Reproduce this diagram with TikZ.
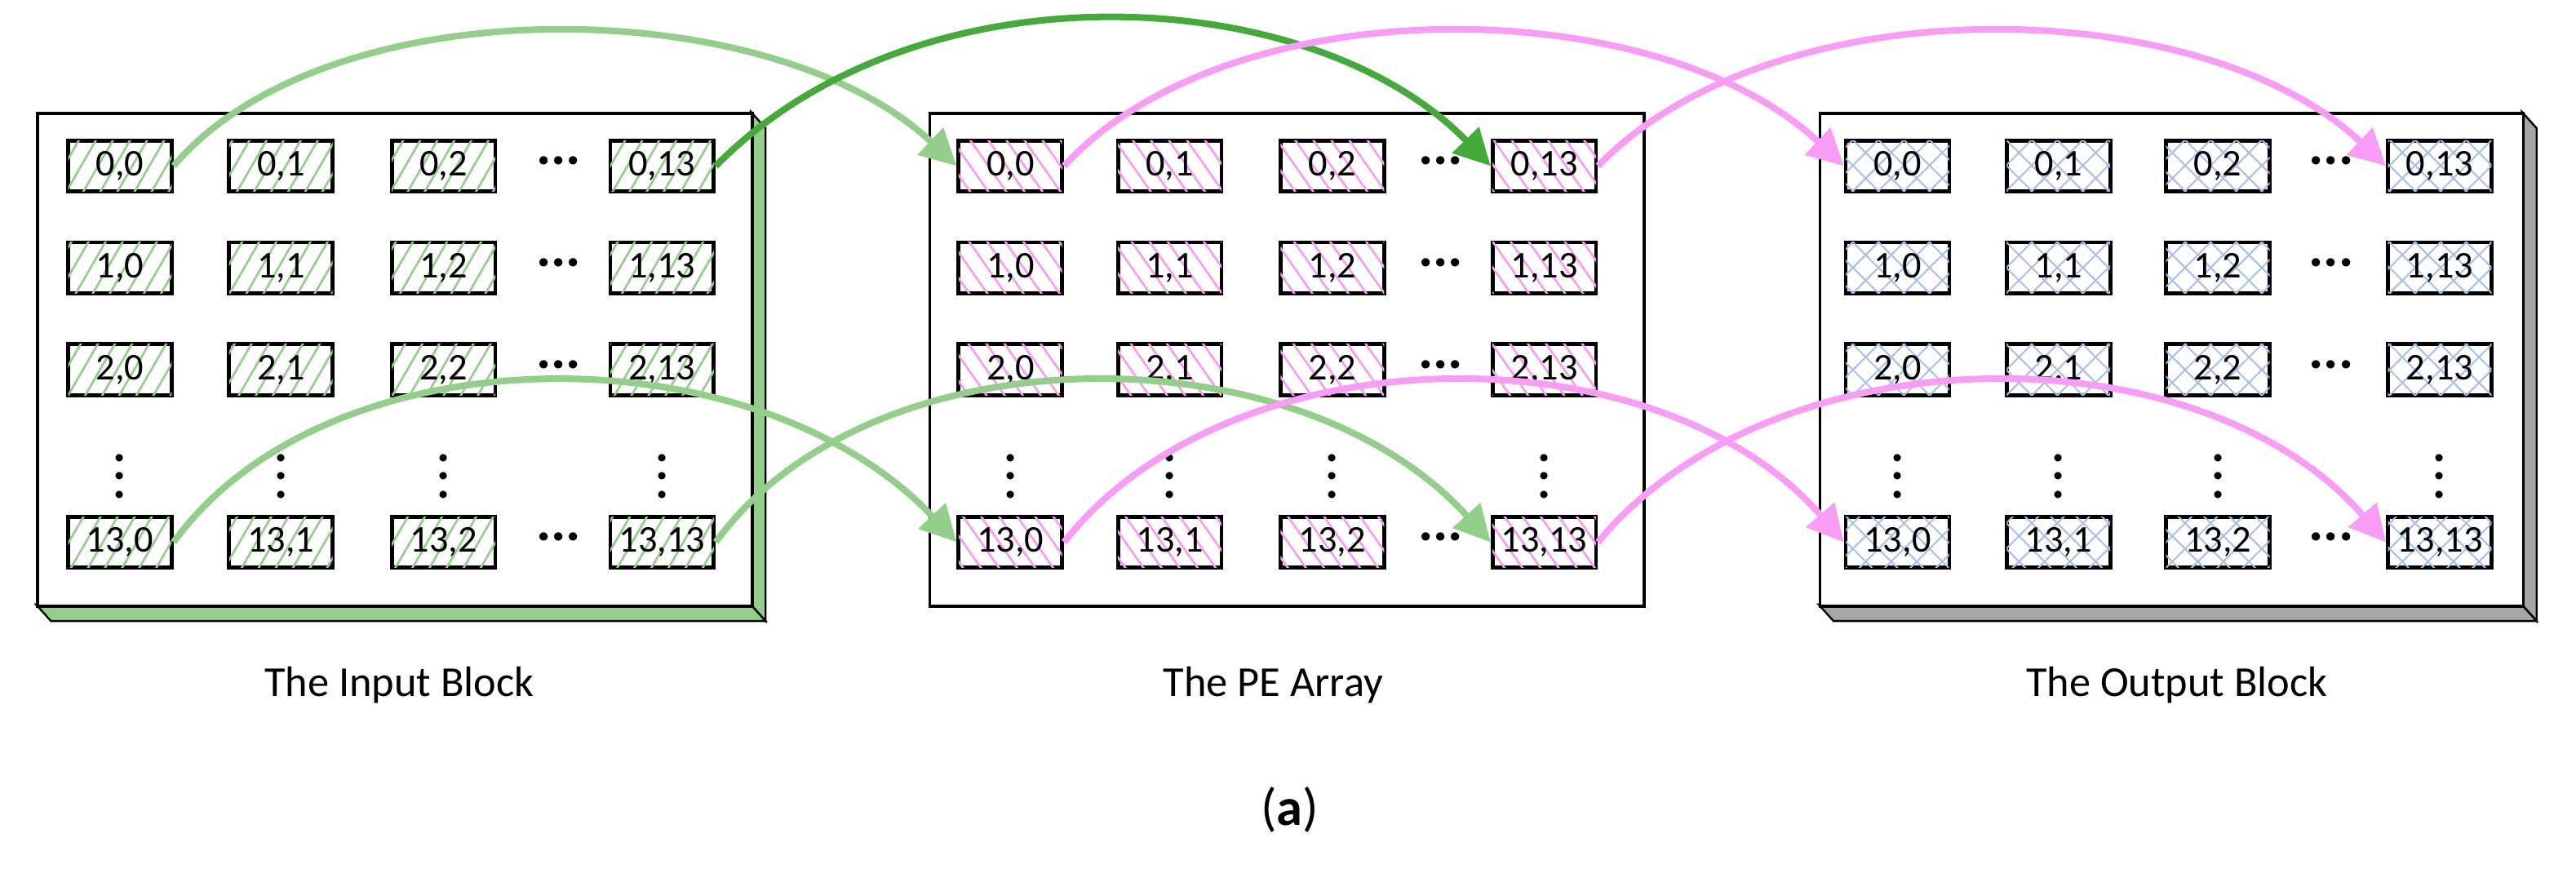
\documentclass[tikz,border=0pt]{standalone}
\usepackage{fontspec}
\setmainfont{Carlito}
\usetikzlibrary{patterns.meta,arrows.meta}
\definecolor{lg}{HTML}{93CF8A}
\definecolor{dg}{HTML}{44AA3A}
\definecolor{pk}{HTML}{F99CF5}
\definecolor{lb}{HTML}{A8C0E8}
\definecolor{gs}{HTML}{A6A6A6}
\begin{document}
\begin{tikzpicture}[x=1pt,y=-1pt,
  cell/.style={draw=black,line width=2.4pt,minimum width=63pt,minimum height=31pt,inner sep=0pt,font=\fontsize{23}{24}\selectfont},
  gcell/.style={cell,postaction={pattern={Lines[angle=60,distance=9pt,line width=1.3pt]},pattern color=lg}},
  pcell/.style={cell,postaction={pattern={Lines[angle=-55,distance=9pt,line width=1.3pt]},pattern color=pk}},
  bcell/.style={cell,postaction={pattern={Lines[angle=45,distance=11pt,line width=1pt]},pattern color=lb},postaction={pattern={Lines[angle=-45,distance=11pt,line width=1pt]},pattern color=lb}},
  blk/.style={draw=black,line width=1.8pt,fill=white},
  lbl/.style={font=\fontsize{26}{28}\selectfont},
  arr/.style={line width=4pt,-{Triangle[length=22pt,width=22pt]}},
  hd/.style={inner sep=0pt,font=\fontsize{34}{34}\bfseries\selectfont},
  vd/.style={inner sep=0pt,align=center,font=\fontsize{30}{11}\bfseries\selectfont}]
\useasboundingbox (0,0) rectangle (1568,528.5);
% blocks
\fill[lg,draw=black,line width=1.2pt] (457,68) -- (466,78) -- (466,378) -- (457,368) -- cycle;
\fill[lg,draw=black,line width=1.2pt] (22,368) -- (31,378) -- (466,378) -- (457,368) -- cycle;
\node[blk,minimum width=435pt,minimum height=300pt,inner sep=0pt,anchor=north west] (inb) at (22,68) {};
\node[blk,minimum width=435pt,minimum height=300pt,inner sep=0pt,anchor=north west] (peb) at (565,68) {};
\fill[gs,draw=black,line width=1.2pt] (1535,68) -- (1544,78) -- (1544,378) -- (1535,368) -- cycle;
\fill[gs,draw=black,line width=1.2pt] (1107,368) -- (1116,378) -- (1544,378) -- (1535,368) -- cycle;
\node[blk,minimum width=428pt,minimum height=300pt,inner sep=0pt,anchor=north west] (outb) at (1107,68) {};
% cells
\foreach \r/\y in {0/101,1/163,2/225,13/330}{
  \foreach \c/\xa/\xb/\xc in {0/73/615/1155,1/171/712/1253,2/270/811/1350,13/403/940/1485}{
    \node[gcell] (i\r-\c) at (\xa,\y) {\r,\c};
    \node[pcell] (p\r-\c) at (\xb,\y) {\r,\c};
    \node[bcell] (o\r-\c) at (\xc,\y) {\r,\c};
  }
  \node[hd] (di\r) at (340,\y-3) {...};
  \node[hd] (dp\r) at (877,\y-3) {...};
  \node[hd] (do\r) at (1419,\y-3) {...};
}
\foreach \x/\n in {73/a,171/b,270/c,403/d,615/e,712/f,811/g,940/h,1155/i,1253/j,1350/k,1485/l}{
  \node[vd] (v\n) at (\x,290) {.\\.\\.};
}
% arrows
\draw[arr,lg] (i0-0.east) .. controls (200,-10) and (470,-5) .. (p0-0.west);
\draw[arr,dg] (i0-13.east) .. controls (560,-25) and (800,-10) .. (p0-13.west);
\draw[arr,lg] (i13-0.east) .. controls (200,200) and (460,200) .. (p13-0.west);
\draw[arr,lg] (i13-13.east) .. controls (530,200) and (790,200) .. (p13-13.west);
\draw[arr,pk] (p0-0.east) .. controls (750,-10) and (1010,-5) .. (o0-0.west);
\draw[arr,pk] (p0-13.east) .. controls (1080,-10) and (1340,-5) .. (o0-13.west);
\draw[arr,pk] (p13-0.east) .. controls (750,200) and (1010,200) .. (o13-0.west);
\draw[arr,pk] (p13-13.east) .. controls (1080,200) and (1340,200) .. (o13-13.west);
% labels
\node[lbl] (li) at (243,417) {The Input Block};
\node[lbl] (lp) at (775,417) {The PE Array};
\node[lbl] (lo) at (1325,417) {The Output Block};
\node[font=\fontsize{32}{34}\selectfont] (cap) at (785,493) {(\textbf{a})};
\end{tikzpicture}
\end{document}
